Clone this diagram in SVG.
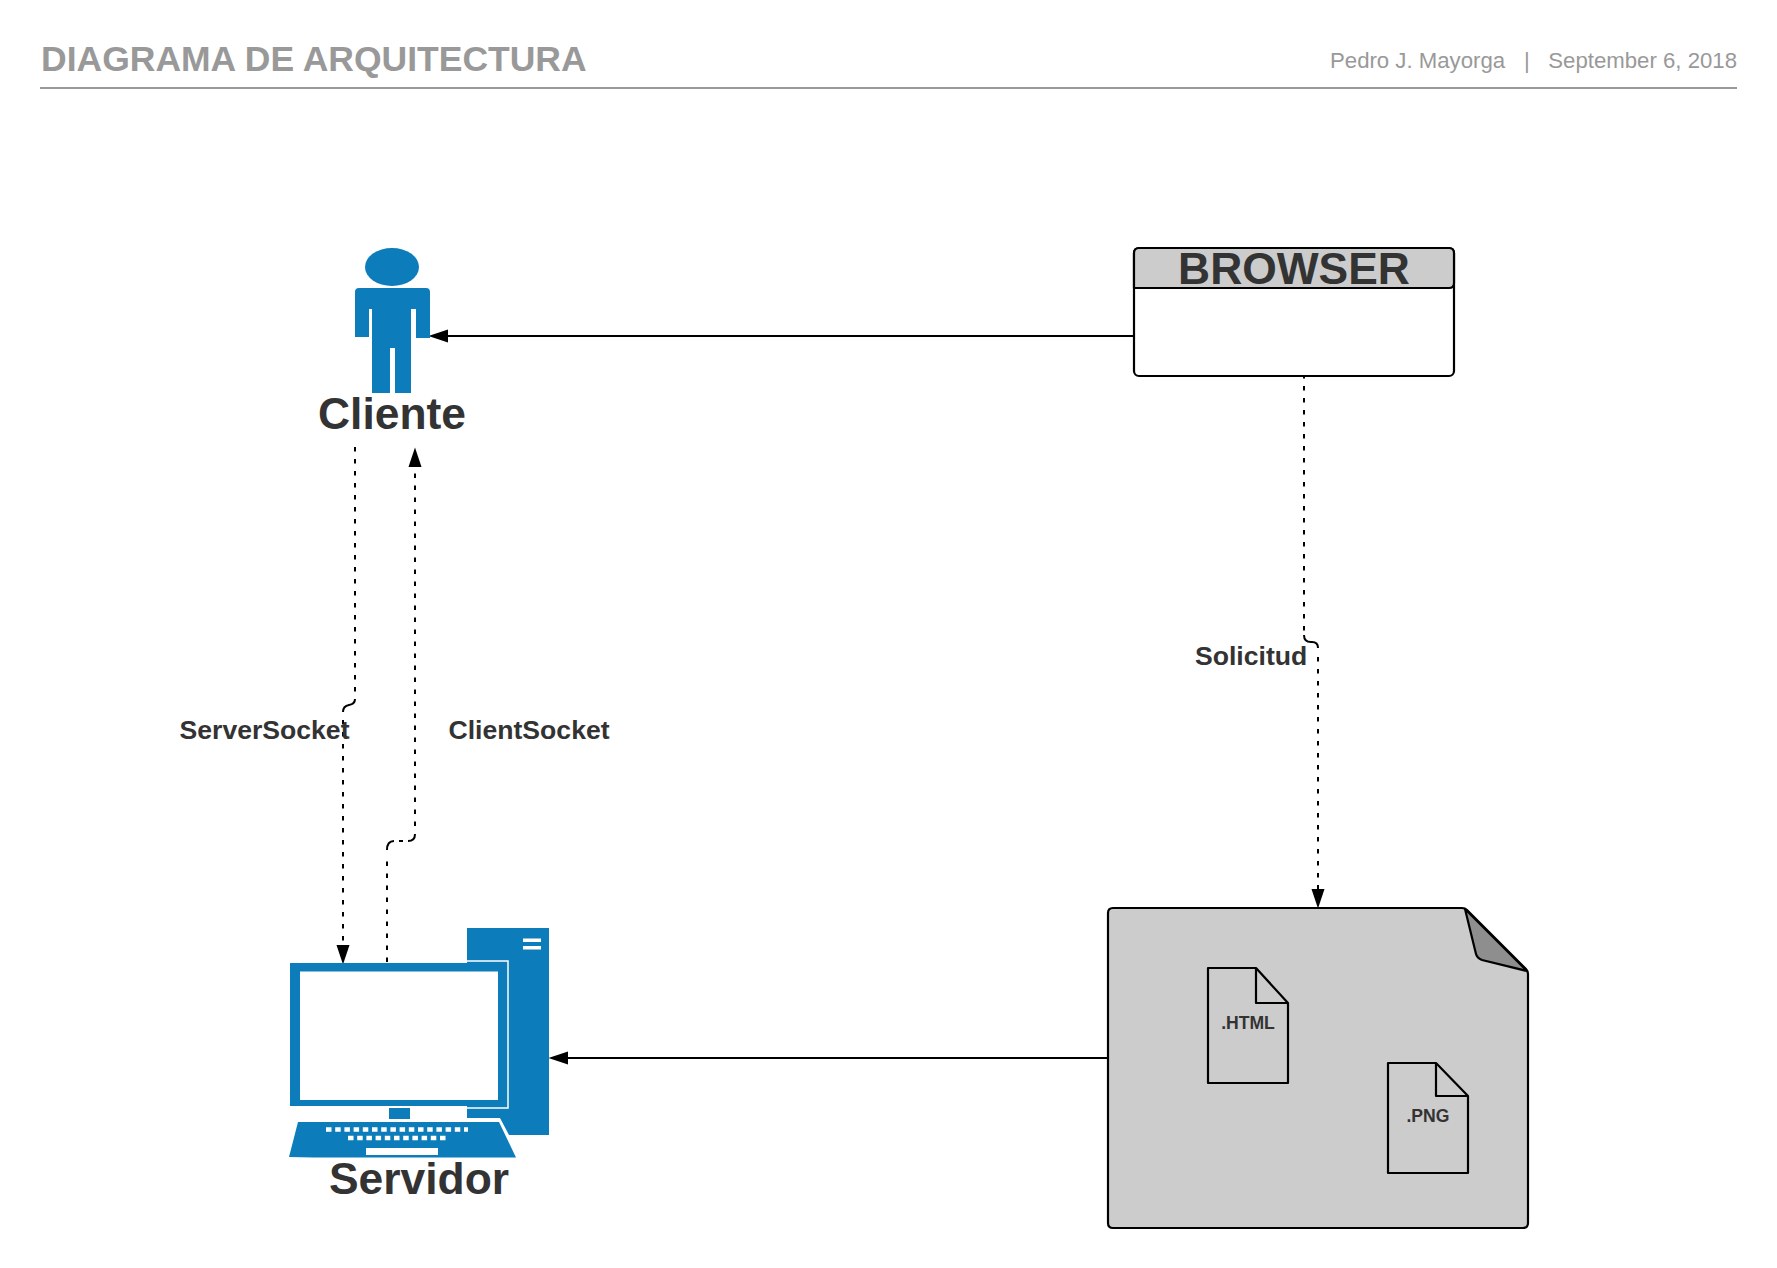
<svg xmlns="http://www.w3.org/2000/svg" width="1777" height="1268" viewBox="0 0 1777 1268">
<style>
text{font-family:"Liberation Sans",Arial,sans-serif;font-weight:bold;fill:#333}
.blue{fill:#0c7cba}
.ln{fill:none;stroke:#000;stroke-width:2}
.dot{stroke-dasharray:4.500 7.500}
.arr{marker-end:url(#a)}
.big{font-size:44.4px;text-anchor:middle}
.lbl{font-size:26.6px}
.ft{font-size:17.6px;text-anchor:middle}
.hd{font-weight:normal;fill:#999;font-size:22.2px}
.sh{stroke:#000;stroke-width:2.2;stroke-linejoin:round}
</style>
<defs>
<marker id="a" markerUnits="userSpaceOnUse" markerWidth="20" markerHeight="14" viewBox="0 0 18 12" refX="4" refY="6" orient="auto"><path d="M0 0L18 6L0 12Z" fill="#000"/></marker>
</defs>
<g id="header">
<text x="41" y="71.300" font-size="35.500" style="fill:#999">DIAGRAMA DE ARQUITECTURA</text>
<text class="hd" x="1330" y="68">Pedro J. Mayorga</text>
<text class="hd" x="1524" y="68">|</text>
<text class="hd" x="1737" y="68" text-anchor="end">September 6, 2018</text>
<rect x="40" y="87" width="1697" height="2" fill="#999"/>
</g>
<g id="connectors">
<path class="ln arr" d="M1136 336H444"/>
<path class="ln arr" d="M1108 1058H564"/>
<path class="ln dot" d="M1304 374V632"/>
<path class="ln" d="M1304 635Q1304 642 1311 642H1312Q1318 642 1318 648"/>
<path class="ln dot arr" d="M1318 657V893"/>
<path class="ln dot" d="M355 447V692"/>
<path class="ln" d="M355 699Q355 704 349 705Q343 706 343 712"/>
<path class="ln dot arr" d="M343 720V949"/>
<path class="ln dot" d="M387 962V856M399 841H403"/>
<path class="ln" d="M387 850Q387 841 394 841M408 841Q415 841 415 834"/>
<path class="ln dot arr" d="M415 826V463"/>
<text class="lbl" x="179.500" y="739">ServerSocket</text>
<text class="lbl" x="448.500" y="739">ClientSocket</text>
<text class="lbl" x="1195" y="665">Solicitud</text>
</g>
<g id="cliente">
<ellipse class="blue" cx="392" cy="267" rx="27" ry="19"/>
<path class="blue" d="M359 288H426Q430 288 430 292V338H416V309H411V393H395V348H390V393H372V309H369V337H355V292Q355 288 359 288Z"/>
<text class="big" x="392" y="429">Cliente</text>
</g>
<g id="browser">
<rect x="1134" y="248" width="320" height="128" rx="5" fill="#fff" class="sh"/>
<path d="M1134 288V253Q1134 248 1139 248H1449Q1454 248 1454 253V283Q1454 288 1449 288Z" fill="#ccc" class="sh"/>
<text class="big" x="1294" y="284">BROWSER</text>
</g>
<g id="servidor">
<path class="blue" d="M467 928H549V1135H509L500 1118H467Z"/>
<rect x="523" y="938.500" width="18" height="3.500" fill="#fff"/>
<rect x="523" y="946" width="18" height="3.500" fill="#fff"/>
<path d="M467 961H508V1108H467" fill="none" stroke="#fff" stroke-width="1.500"/>
<rect class="blue" x="290" y="963" width="217" height="143"/>
<rect x="300" y="971.500" width="198" height="128.500" fill="#fff"/>
<rect class="blue" x="389" y="1108" width="21" height="11"/>
<path class="blue" d="M298 1122H499L516 1157.500H314L289 1157Z"/>
<path d="M326 1129.500H468" fill="none" stroke="#fff" stroke-width="4.500" stroke-dasharray="5.500 3.700"/>
<path d="M348 1138H449" fill="none" stroke="#fff" stroke-width="4.500" stroke-dasharray="5.500 3.700"/>
<rect x="366" y="1148" width="72" height="7" fill="#fff"/>
<text class="big" x="419" y="1194">Servidor</text>
</g>
<g id="documentos">
<path d="M1113 908H1462Q1465 908 1467 910L1526 969Q1528 971 1528 974V1223Q1528 1228 1523 1228H1113Q1108 1228 1108 1223V913Q1108 908 1113 908Z" fill="#ccc" class="sh"/>
<path d="M1465 909L1476 954Q1477 958 1482 960L1527 971Z" fill="#8e8e8e" class="sh"/>
</g>
<g id="html">
<path d="M1208 968H1256L1288 1003V1083H1208Z" fill="#ccc" class="sh"/>
<path d="M1256 968V1003H1288" fill="none" class="sh"/>
<text class="ft" x="1248" y="1029">.HTML</text>
</g>
<g id="png">
<path d="M1388 1063H1436L1468 1096V1173H1388Z" fill="#ccc" class="sh"/>
<path d="M1436 1063V1096H1468" fill="none" class="sh"/>
<text class="ft" x="1428" y="1121.500">.PNG</text>
</g>
</svg>
